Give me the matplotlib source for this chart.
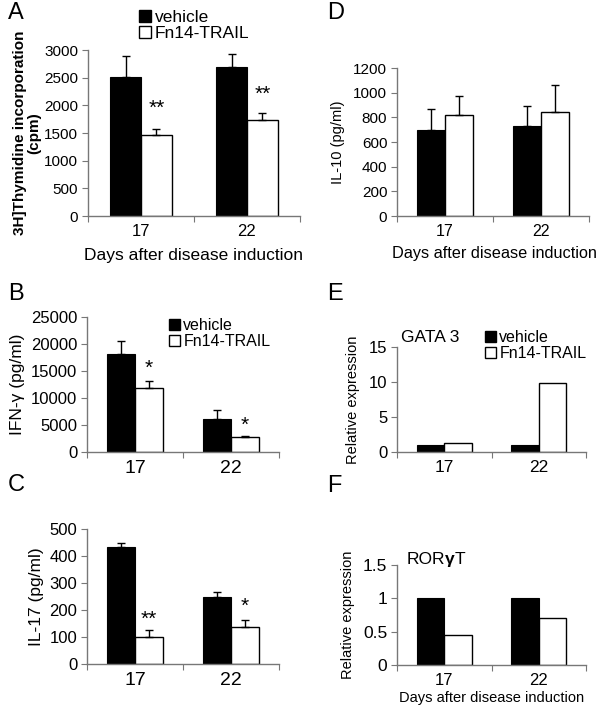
import matplotlib
matplotlib.use("Agg")
import matplotlib.pyplot as plt
from matplotlib.patches import Patch
import numpy as np

plt.rcParams['font.family'] = ['Liberation Sans', 'DejaVu Sans']

days = ["17", "22"]

# A: 3H-thymidine incorporation (cpm)
thy_vehicle = [2520, 2700]
thy_vehicle_err = [380, 220]
thy_fn14 = [1470, 1740]
thy_fn14_err = [110, 120]
thy_stars = ["**", "**"]

# B: IFN-gamma (pg/ml)
ifn_vehicle = [18100, 6100]
ifn_vehicle_err = [2500, 1600]
ifn_fn14 = [11900, 2700]
ifn_fn14_err = [1300, 200]
ifn_stars = ["*", "*"]

# C: IL-17 (pg/ml)
il17_vehicle = [435, 250]
il17_vehicle_err = [15, 15]
il17_fn14 = [100, 138]
il17_fn14_err = [25, 24]
il17_stars = ["**", "*"]

# D: IL-10 (pg/ml)
il10_vehicle = [700, 730]
il10_vehicle_err = [170, 165]
il10_fn14 = [820, 845]
il10_fn14_err = [150, 220]

# E: GATA 3 relative expression
gata_vehicle = [1.0, 1.0]
gata_fn14 = [1.3, 9.9]

# F: RORgammaT relative expression
ror_vehicle = [1.0, 1.0]
ror_fn14 = [0.45, 0.7]

W, H = 600, 712
fig = plt.figure(figsize=(6, 7.12), dpi=100)


def make_ax(l, r, b, t):
    return fig.add_axes([l / W, 1 - b / H, (r - l) / W, (b - t) / H])


def bars(ax, v, f, ve=None, fe=None, ymax=None, step=None,
         ytick_fs=11, xtick_fs=12, stars=None, star_y=None, star_fs=15):
    x = np.arange(len(days)) + 0.5
    w = 0.29
    ax.bar(x - w / 2, v, w, color="black", edgecolor="black", lw=0.8, zorder=2)
    ax.bar(x + w / 2, f, w, color="white", edgecolor="black", lw=1.0, zorder=2)
    if ve is not None:
        ax.errorbar(x - w / 2, v, yerr=[np.zeros(len(v)), ve], fmt="none",
                    ecolor="black", elinewidth=1, capsize=3, capthick=1, zorder=3)
    if fe is not None:
        ax.errorbar(x + w / 2, f, yerr=[np.zeros(len(f)), fe], fmt="none",
                    ecolor="black", elinewidth=1, capsize=3, capthick=1, zorder=3)
    ax.set_xlim(0, len(days))
    ax.set_ylim(0, ymax)
    ax.set_yticks(np.arange(0, ymax + step / 2, step))
    ax.set_xticks([0, 1, 2])
    ax.set_xticklabels([])
    ax.set_xticks(x, minor=True)
    ax.set_xticklabels(days, minor=True, fontsize=xtick_fs)
    ax.tick_params(axis="x", which="minor", length=0, pad=6)
    ax.tick_params(axis="x", which="major", length=4, color="#777777")
    ax.tick_params(axis="y", length=4, color="#777777", labelsize=ytick_fs, pad=3)
    for s in ["top", "right"]:
        ax.spines[s].set_visible(False)
    for s in ["left", "bottom"]:
        ax.spines[s].set_color("#777777")
        ax.spines[s].set_linewidth(1)
    if stars is not None:
        for xi, s, yy in zip(x, stars, star_y):
            ax.text(xi + w / 2, yy, s, ha="center", va="center", fontsize=star_fs)
    # y tick labels like "1" instead of "1.0"
    ax.yaxis.set_major_formatter(matplotlib.ticker.FuncFormatter(lambda val, p: f"{val:g}"))


handles = [Patch(facecolor="black", edgecolor="black"),
           Patch(facecolor="white", edgecolor="black")]
labels = ["vehicle", "Fn14-TRAIL"]


def legend(x, y, fs):
    fig.legend(handles, labels, loc="upper left", bbox_to_anchor=(x / W, 1 - y / H),
               frameon=False, fontsize=fs, handlelength=0.7, handleheight=0.7,
               handletextpad=0.2, labelspacing=0.05, borderpad=0, borderaxespad=0)


# Panel A
axA = make_ax(88, 300, 216, 50)
bars(axA, thy_vehicle, thy_fn14, thy_vehicle_err, thy_fn14_err, 3000, 500,
     ytick_fs=11, xtick_fs=12, stars=thy_stars, star_y=[1950, 2200])
axA.set_ylabel("3H]Thymidine incorporation\n(cpm)", fontsize=11, fontweight="bold",
               linespacing=1.0, labelpad=2)
axA.set_xlabel("Days after disease induction", fontsize=12.5, labelpad=6)
legend(139, 10, 12.5)

# Panel B
axB = make_ax(87, 279, 452, 317)
bars(axB, ifn_vehicle, ifn_fn14, ifn_vehicle_err, ifn_fn14_err, 25000, 5000,
     ytick_fs=12, xtick_fs=14, stars=ifn_stars, star_y=[15500, 5000])
axB.set_ylabel("IFN-γ (pg/ml)", fontsize=12.5, labelpad=4)
legend(169, 318, 11.5)

# Panel C
axC = make_ax(87, 279, 664, 529)
bars(axC, il17_vehicle, il17_fn14, il17_vehicle_err, il17_fn14_err, 500, 100,
     ytick_fs=12, xtick_fs=14, stars=il17_stars, star_y=[165, 215])
axC.set_ylabel("IL-17 (pg/ml)", fontsize=12.5, labelpad=4)

# Panel D
axD = make_ax(397, 589, 216, 68)
bars(axD, il10_vehicle, il10_fn14, il10_vehicle_err, il10_fn14_err, 1200, 200,
     ytick_fs=11, xtick_fs=11.5)
axD.set_ylabel("IL-10 (pg/ml)", fontsize=10.5, labelpad=6)
axD.set_xlabel("Days after disease induction", fontsize=11.7)
axD.xaxis.set_label_coords(0.51, -0.2)

# Panel E
axE = make_ax(397, 586, 452, 347)
bars(axE, gata_vehicle, gata_fn14, ymax=15, step=5, ytick_fs=12, xtick_fs=12.5)
axE.set_ylabel("Relative expression", fontsize=10.5, labelpad=6)
axE.text(0.04, 15.3, "GATA 3", fontsize=12.5, ha="left", va="bottom")
legend(485, 330, 11.5)

# Panel F
axF = make_ax(397, 586, 665, 565)
bars(axF, ror_vehicle, ror_fn14, ymax=1.5, step=0.5, ytick_fs=12.5, xtick_fs=12)
axF.set_ylabel("Relative expression", fontsize=10.5, labelpad=6)
axF.set_xlabel("Days after disease induction", fontsize=10.5, labelpad=2)
t1 = axF.text(0.1, 1.47, "ROR", fontsize=12.5, ha="left", va="bottom")
t2 = axF.annotate("γ", xy=(1, 0), xycoords=t1, fontsize=12.5, fontweight="bold",
                  ha="left", va="bottom")
axF.annotate("T", xy=(1, 0), xycoords=t2, fontsize=12.5, ha="left", va="bottom")

# panel letters
for letter, (px, py) in zip("ABCDEF", [(8, 2), (8, 283), (8, 474), (327, 2), (327, 283), (327, 475)]):
    fig.text(px / W, 1 - py / H, letter, fontsize=17, ha="left", va="top")

fig.savefig("out.png", dpi=100)
